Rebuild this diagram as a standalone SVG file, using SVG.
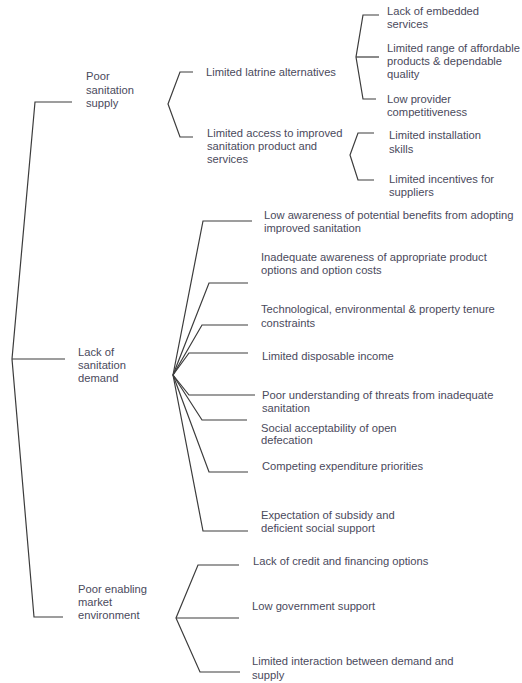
<svg xmlns="http://www.w3.org/2000/svg" width="522" height="683" viewBox="0 0 522 683">
<style>
text{font-family:"Liberation Sans",Arial,sans-serif;font-size:11.2px;fill:#4a4a5c}
.c path{fill:none;stroke:#3c3c3c;stroke-width:1.2}
</style>
<rect width="522" height="683" fill="#fff"/>
<g class="c" id="connectors">
<path d="M72,102H35L12,359L34,617H63"/>
<path d="M12,359H65"/>
<path d="M193,72H180L168,104L180,137H193"/>
<path d="M379,15H363L356,57L363,99H376"/>
<path d="M356,57H379"/>
<path d="M374,133H358L350,155L358,180H374"/>
<path d="M252,221H203L173,375"/>
<path d="M248,283H209L173,375"/>
<path d="M248,325H202L173,375"/>
<path d="M248,353H189L173,375"/>
<path d="M255,395H189L173,375"/>
<path d="M247,420H202L173,375"/>
<path d="M248,472H209L173,375"/>
<path d="M248,531H203L173,375"/>
<path d="M239,565H198L176,618L200,672H240"/>
<path d="M176,618H239"/>
</g>
<g id="n-supply"><text x="86" y="80">Poor</text><text x="86" y="93.5">sanitation</text><text x="86" y="107">supply</text></g>
<g id="n-latrine"><text x="206" y="76">Limited latrine alternatives</text></g>
<g id="n-access"><text x="207" y="137">Limited access to improved</text><text x="207" y="150">sanitation product and</text><text x="207" y="163">services</text></g>
<g id="n-embedded"><text x="387" y="15">Lack of embedded</text><text x="387" y="28">services</text></g>
<g id="n-range"><text x="387" y="52">Limited range of affordable</text><text x="387" y="65">products &amp; dependable</text><text x="387" y="78">quality</text></g>
<g id="n-provider"><text x="387" y="103">Low provider</text><text x="387" y="116">competitiveness</text></g>
<g id="n-install"><text x="389" y="139">Limited installation</text><text x="389" y="153">skills</text></g>
<g id="n-incent"><text x="389" y="183">Limited incentives for</text><text x="389" y="196">suppliers</text></g>
<g id="n-demand"><text x="78" y="356">Lack of</text><text x="78" y="369">sanitation</text><text x="78" y="382">demand</text></g>
<g id="n-benefits"><text x="264" y="219">Low awareness of potential benefits from adopting</text><text x="264" y="232">improved sanitation</text></g>
<g id="n-options"><text x="261" y="261">Inadequate awareness of appropriate product</text><text x="261" y="274">options and option costs</text></g>
<g id="n-tech"><text x="261" y="313">Technological, environmental &amp; property tenure</text><text x="261" y="327">constraints</text></g>
<g id="n-income"><text x="262" y="360">Limited disposable income</text></g>
<g id="n-threats"><text x="262" y="399">Poor understanding of threats from inadequate</text><text x="262" y="412">sanitation</text></g>
<g id="n-social"><text x="261" y="432">Social acceptability of open</text><text x="261" y="444">defecation</text></g>
<g id="n-compet"><text x="262" y="470">Competing expenditure priorities</text></g>
<g id="n-subsidy"><text x="261" y="519">Expectation of subsidy and</text><text x="261" y="532">deficient social support</text></g>
<g id="n-market"><text x="78" y="593">Poor enabling</text><text x="78" y="606">market</text><text x="78" y="619">environment</text></g>
<g id="n-credit"><text x="253" y="565">Lack of credit and financing options</text></g>
<g id="n-gov"><text x="252" y="610">Low government support</text></g>
<g id="n-interact"><text x="252" y="665">Limited interaction between demand and</text><text x="252" y="679">supply</text></g>
</svg>
